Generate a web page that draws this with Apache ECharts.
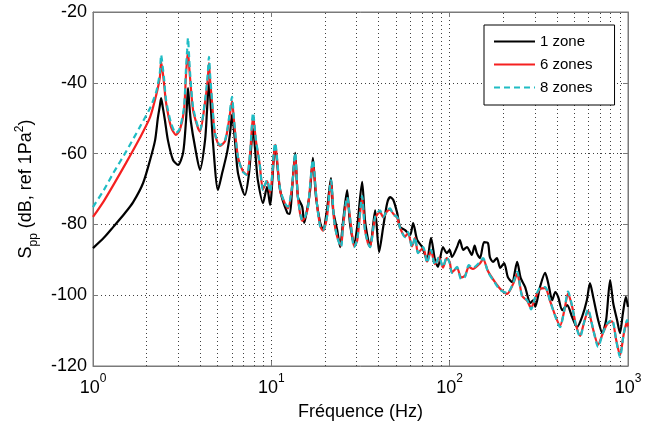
<!DOCTYPE html>
<html lang="fr">
<head>
  <meta charset="utf-8">
  <style>
    html, body { margin: 0; padding: 0; background: #fff; }
    #container { width: 657px; height: 423px; }
  </style>
</head>
<body>
  <div id="container"></div>
  <script type="text/javascript" src="https://cdn.jsdelivr.net/npm/echarts@6/dist/echarts.min.js"></script>
  <script type="text/javascript">
    // 1 zone
    var freq1 = [1.00, 1.15, 1.30, 1.50, 1.68, 1.91, 2.09, 2.23, 2.31, 2.37, 2.41, 2.46, 2.53, 2.63, 2.81, 3.00, 3.20, 3.32, 3.37, 3.41,
      3.46, 3.54, 3.73, 3.98, 4.25, 4.36, 4.47, 4.59, 4.71, 5.02, 5.30, 5.64, 5.87, 6.02, 6.25, 6.50, 7.10, 7.50, 7.90, 8.20,
      8.40, 8.98, 9.46, 9.84, 10.5, 11.2, 12.3, 12.7, 13.06, 13.6, 14.1, 14.9, 15.3, 15.85, 16.5, 17.1, 17.8, 18.8, 19.5, 20.5,
      21.6, 22.2, 23.4, 24.3, 25.2, 26.6, 27.6, 29.1, 30.3, 32.3, 33.5, 34.9, 35.8, 38.2, 40.2, 42.4, 44.6, 46.3, 48.3, 50.8,
      52.7, 56.2, 60.0, 62.4, 65.7, 70.1, 74.7, 78.6, 82.7, 86.0, 91.7, 96.3, 100, 103, 110, 114, 119, 125, 133, 138,
      142, 148, 156, 164, 168, 175, 184, 192, 202, 212, 224, 239, 250, 265, 283, 295, 302, 321, 343, 357,
      376, 391, 406, 428, 456, 486, 518, 552, 588, 612, 638, 680, 717, 754, 794, 826, 868, 902, 937, 973, 1000];
    var spl1 = [-86.7, -83.8, -80.7, -77.0, -73.7, -68.3, -61.8, -56.2, -50.0, -46.5, -44.3, -46.8, -50.5, -56.2, -61.8, -63.2, -59.8, -51.0, -45.5, -41.5,
      -45.5, -51.0, -58.0, -64.6, -56.2, -47.7, -39.8, -47.7, -57.0, -70.3, -65.5, -59.8, -54.2, -49.0, -56.2, -65.5, -71.7, -65.5, -53.0, -62.0,
      -67.5, -74.0, -69.4, -74.5, -58.0, -70.3, -76.8, -77.0, -70.3, -59.8, -72.3, -75.0, -79.6, -76.0, -70.3, -61.2, -72.3, -79.6, -81.6, -76.0,
      -66.9, -76.0, -81.6, -86.4, -79.6, -70.3, -79.6, -85.3, -80.7, -68.0, -78.8, -84.4, -86.4, -76.0, -87.8, -80.7, -74.0, -72.3, -73.1, -76.8,
      -80.7, -81.6, -83.0, -79.6, -84.4, -86.4, -90.0, -83.8, -90.0, -92.0, -86.4, -88.1, -87.2, -89.2, -86.4, -84.4, -87.2, -86.4, -88.6, -86.0,
      -88.1, -89.5, -85.0, -85.3, -89.2, -90.6, -89.5, -92.3, -90.9, -94.9, -96.3, -90.6, -95.1, -97.7, -102.2, -101.4, -103.3, -97.7, -93.7, -96.6,
      -101.4, -99.1, -100.5, -104.2, -102.8, -106.2, -109.0, -106.2, -101.4, -96.6, -100.5, -107.0, -110.7, -107.0, -95.7, -102.2, -107.0, -110.7, -105.0, -100.5, -103.3];

    // 6 zones and 8 zones share the same frequencies
    var freqZ = [1.00, 1.15, 1.30, 1.53, 1.83, 2.09, 2.26, 2.37, 2.41, 2.46, 2.50, 2.57, 2.74, 2.92, 3.07, 3.24, 3.32, 3.37, 3.41, 3.45,
      3.50, 3.64, 3.88, 3.98, 4.25, 4.40, 4.47, 4.54, 4.65, 4.83, 5.15, 5.50, 5.80, 6.02, 6.18, 6.50, 6.93, 7.30, 7.60, 7.90,
      8.20, 8.60, 8.98, 9.46, 9.84, 10.5, 11.2, 11.9, 12.4, 13.06, 13.6, 14.1, 14.9, 15.45, 16.07, 17.1, 18.0, 18.8, 19.5, 20.5,
      21.6, 22.5, 23.4, 24.6, 25.2, 26.6, 28.0, 29.1, 30.3, 32.3, 33.5, 34.9, 35.8, 38.2, 40.7, 42.4, 44.6, 46.3, 48.3, 50.8,
      52.7, 56.2, 58.4, 61.5, 64.0, 66.5, 71.0, 74.7, 78.6, 82.7, 87.2, 91.7, 96.3, 100, 103, 110, 116, 122, 128, 135,
      148, 154, 164, 180, 192, 210, 227, 239, 255, 272, 286, 302, 320, 343, 365, 391, 416, 440, 461, 486,
      510, 539, 565, 597, 640, 680, 720, 763, 814, 860, 902, 945, 988, 1000];
    var spl6 = [-77.9, -73.4, -68.9, -62.7, -55.6, -49.7, -43.5, -38.5, -34.1, -37.0, -40.0, -45.7, -52.5, -54.7, -53.3, -47.7, -38.0, -33.5, -31.3, -34.5,
      -38.5, -47.7, -52.8, -53.8, -45.5, -39.0, -34.4, -39.5, -45.5, -54.5, -57.8, -56.5, -50.5, -45.2, -51.0, -61.0, -65.0, -66.0, -60.0, -49.5,
      -56.5, -63.0, -70.0, -67.8, -71.0, -57.5, -70.5, -74.0, -75.5, -69.5, -60.5, -72.5, -79.0, -78.0, -75.0, -62.5, -74.0, -80.5, -81.8, -78.0,
      -68.0, -79.0, -83.5, -86.0, -81.0, -72.8, -80.5, -86.2, -84.6, -72.5, -81.5, -85.5, -86.2, -78.2, -76.5, -78.0, -76.3, -75.8, -77.0, -78.2,
      -81.0, -83.4, -82.5, -86.2, -83.8, -88.0, -86.6, -90.5, -87.5, -91.2, -89.4, -92.2, -89.5, -90.6, -93.5, -92.3, -95.0, -94.5, -92.0, -92.6,
      -91.0, -89.8, -93.2, -96.4, -98.2, -99.6, -96.8, -94.0, -100.2, -101.6, -103.6, -100.8, -98.3, -98.0, -101.5, -105.8, -108.6, -104.2, -99.5, -103.2,
      -108.3, -111.5, -108.0, -104.4, -110.0, -114.0, -111.0, -108.2, -107.4, -112.8, -117.0, -111.2, -107.4, -109.0];
    var spl8 = [-75.1, -70.3, -65.5, -59.5, -52.5, -47.1, -42.6, -37.2, -32.1, -35.5, -38.5, -44.9, -51.4, -54.2, -52.8, -46.8, -36.4, -31.0, -27.3, -31.5,
      -37.0, -46.8, -52.5, -53.3, -44.9, -37.5, -32.7, -38.0, -44.9, -54.2, -57.6, -56.2, -49.7, -44.0, -50.5, -61.0, -65.2, -66.0, -59.8, -48.5,
      -56.2, -62.7, -70.3, -67.5, -70.8, -57.0, -70.0, -74.0, -75.0, -69.4, -59.8, -72.3, -78.8, -77.9, -75.0, -61.8, -74.0, -80.7, -81.6, -77.9,
      -67.5, -78.8, -83.6, -86.4, -80.7, -72.3, -80.7, -86.4, -84.4, -72.0, -81.6, -85.3, -86.4, -77.9, -76.0, -77.9, -76.0, -75.5, -77.3, -77.9,
      -81.0, -83.6, -82.2, -86.4, -83.6, -88.1, -86.4, -90.9, -87.2, -91.5, -89.2, -92.0, -89.2, -90.9, -93.7, -92.0, -95.5, -94.8, -91.5, -92.3,
      -90.6, -89.5, -93.4, -96.6, -98.5, -99.4, -96.6, -93.4, -100.5, -101.4, -104.0, -100.5, -98.0, -97.7, -101.5, -106.0, -109.0, -104.0, -99.0, -103.0,
      -108.5, -111.8, -108.0, -104.0, -110.0, -114.6, -111.0, -108.0, -107.0, -113.0, -117.5, -111.0, -107.0, -109.0];

    var seriesNames = ['1 zone', '6 zones', '8 zones'];
    var minorGrid = [2, 3, 4, 5, 6, 7, 8, 9, 20, 30, 40, 50, 60, 70, 80, 90, 200, 300, 400, 500, 600, 700, 800, 900];

    function pairs(xs, ys) {
      return xs.map(function (x, i) { return [x, ys[i]]; });
    }

    var dotted = { type: [1, 3], color: '#404040', width: 1 };
    var font = 'Liberation Sans, Arial, Helvetica, sans-serif';

    var chart = echarts.init(document.getElementById('container'), null, { renderer: 'canvas' });
    chart.setOption({
      animation: false,
      backgroundColor: '#fff',
      textStyle: { fontFamily: font },
      grid: {
        left: 93, right: 29, top: 12, bottom: 57,
        outerBoundsMode: 'none',
        show: true, borderColor: '#7a7a7a', borderWidth: 1
      },
      legend: {
        data: seriesNames,
        orient: 'vertical',
        left: 484,
        top: 25,
        itemWidth: 41,
        itemHeight: 14,
        itemGap: 8,
        padding: [9, 22, 10, 9],
        backgroundColor: '#fff',
        borderColor: '#000',
        borderWidth: 1,
        itemStyle: { opacity: 0 },
        textStyle: { fontSize: 15, color: '#000', fontFamily: font }
      },
      xAxis: [{
        type: 'log',
        logBase: 10,
        min: 1,
        max: 1000,
        name: 'Fréquence (Hz)',
        nameLocation: 'middle',
        nameGap: 37,
        nameTextStyle: { fontSize: 18, color: '#000' },
        axisLine: { lineStyle: { color: '#7a7a7a' } },
        axisTick: { inside: true, length: 5, lineStyle: { color: '#7a7a7a' } },
        splitLine: { show: true, lineStyle: dotted },
        axisLabel: {
          color: '#000',
          margin: 7,
          formatter: function (v) {
            return '{b|10}{sup|' + Math.round(Math.log10(v)) + '}';
          },
          rich: {
            b: { fontSize: 18, color: '#000', verticalAlign: 'bottom', lineHeight: 24 },
            sup: { fontSize: 12, color: '#000', verticalAlign: 'top', lineHeight: 24 }
          }
        }
      }, {
        type: 'log', logBase: 10, min: 1, max: 1000, position: 'top',
        axisLine: { lineStyle: { color: '#7a7a7a' } },
        axisTick: { inside: true, length: 5, lineStyle: { color: '#7a7a7a' } },
        axisLabel: { show: false },
        splitLine: { show: false }
      }],
      yAxis: [{
        type: 'value',
        min: -120,
        max: -20,
        interval: 20,
        name: '{n|S}{sub|pp}{n| (dB, ref 1Pa}{sup|2}{n|)}',
        nameLocation: 'middle',
        nameGap: 44,
        nameTextStyle: {
          color: '#000',
          rich: {
            n: { fontSize: 18, color: '#000', lineHeight: 24, verticalAlign: 'middle' },
            sub: { fontSize: 12, color: '#000', lineHeight: 24, verticalAlign: 'bottom', padding: [0, 0, -2, 0] },
            sup: { fontSize: 12, color: '#000', lineHeight: 24, verticalAlign: 'top' }
          }
        },
        axisLine: { show: true, lineStyle: { color: '#7a7a7a' } },
        axisTick: { show: true, inside: true, length: 5, lineStyle: { color: '#7a7a7a' } },
        splitLine: { show: true, lineStyle: dotted },
        axisLabel: { color: '#000', fontSize: 18, margin: 6 }
      }, {
        type: 'value', min: -120, max: -20, interval: 20, position: 'right',
        axisLine: { show: true, lineStyle: { color: '#7a7a7a' } },
        axisTick: { show: true, inside: true, length: 5, lineStyle: { color: '#7a7a7a' } },
        axisLabel: { show: false },
        splitLine: { show: false }
      }],
      series: [{
        name: seriesNames[0],
        type: 'line',
        symbol: 'none',
        smooth: 0.25,
        data: pairs(freq1, spl1),
        lineStyle: { color: '#000', width: 2.2 },
        itemStyle: { color: '#000' },
        z: 2,
        markLine: {
          silent: true,
          z: 1,
          symbol: ['none', 'none'],
          label: { show: false },
          lineStyle: dotted,
          emphasis: { disabled: true },
          data: minorGrid.map(function (v) { return { xAxis: v }; })
        }
      }, {
        name: seriesNames[1],
        type: 'line',
        symbol: 'none',
        smooth: 0.25,
        data: pairs(freqZ, spl6),
        lineStyle: { color: '#f52020', width: 2.2 },
        itemStyle: { color: '#f52020' },
        z: 3
      }, {
        name: seriesNames[2],
        type: 'line',
        symbol: 'none',
        smooth: 0.25,
        data: pairs(freqZ, spl8),
        lineStyle: { color: '#1fbcc4', width: 2.2, type: [6, 4] },
        itemStyle: { color: '#1fbcc4' },
        z: 4
      }]
    });
  </script>
</body>
</html>
